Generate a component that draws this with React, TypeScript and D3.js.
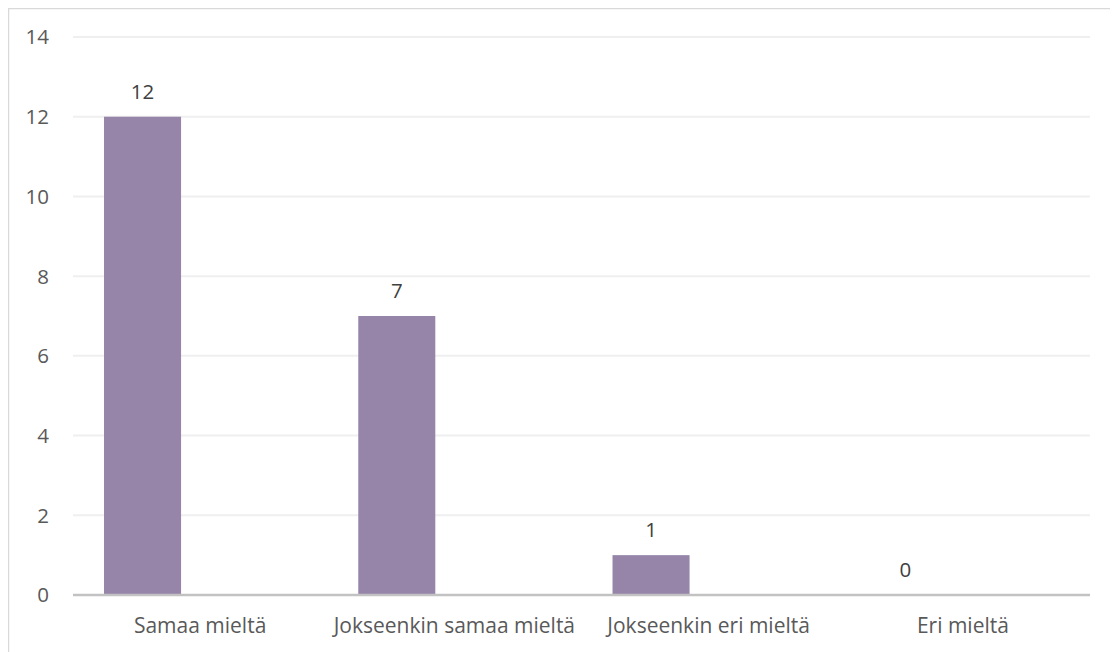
import React from "react";
import * as d3 from "d3";

const categories = ["Samaa mieltä", "Jokseenkin samaa mieltä", "Jokseenkin eri mieltä", "Eri mieltä"];
const values = [12, 7, 1, 0];
const yTicks = [0, 2, 4, 6, 8, 10, 12, 14];

export default function App() {
  const W = 1110;
  const H = 644;
  const left = 65;
  const right = 1082;
  const top = 29;
  const bottom = 587;

  const x = d3.scaleBand<string>().domain(categories).range([left, right]).padding(0);
  const y = d3.scaleLinear().domain([0, 14]).range([bottom, top]);
  const bw = x.bandwidth();
  const barOff = bw * 0.122;
  const barW = bw * 0.303;
  const font = "'Open Sans', sans-serif";

  return (
    <svg width={W} height={H} style={{ display: "block" }} fontFamily={font}>
      <rect x={0} y={0} width={W} height={H} fill="#fff" />
      <line x1={0.5} y1={0} x2={0.5} y2={H} stroke="#d9d9d9" strokeWidth={1.5} />
      <line x1={0} y1={0.5} x2={W} y2={0.5} stroke="#d9d9d9" strokeWidth={1.5} />
      {yTicks.filter((t) => t !== 0).map((t) => (
        <line key={"g" + t} x1={left} x2={right} y1={y(t)} y2={y(t)} stroke="#efefef" strokeWidth={2} />
      ))}
      {yTicks.map((t) => (
        <text key={"t" + t} x={41} y={y(t)} dy="0.36em" textAnchor="end" fontSize={20.5} fill="#595959">
          {t}
        </text>
      ))}
      {categories.map((c, i) => (
        <rect key={"b" + c} x={(x(c) as number) + barOff} y={y(values[i])} width={barW} height={y(0) - y(values[i])} fill="#9685a9" />
      ))}
      <line x1={left} x2={right} y1={y(0)} y2={y(0)} stroke="#c2c2c2" strokeWidth={2.5} />
      {categories.map((c, i) => (
        <text key={"v" + c} x={(x(c) as number) + barOff + barW / 2} y={y(values[i]) - 18} textAnchor="middle" fontSize={20.5} fill="#404040">
          {values[i]}
        </text>
      ))}
      {categories.map((c) => (
        <text key={"c" + c} x={(x(c) as number) + bw / 2} y={625} textAnchor="middle" fontSize={21} fill="#595959">
          {c}
        </text>
      ))}
    </svg>
  );
}
